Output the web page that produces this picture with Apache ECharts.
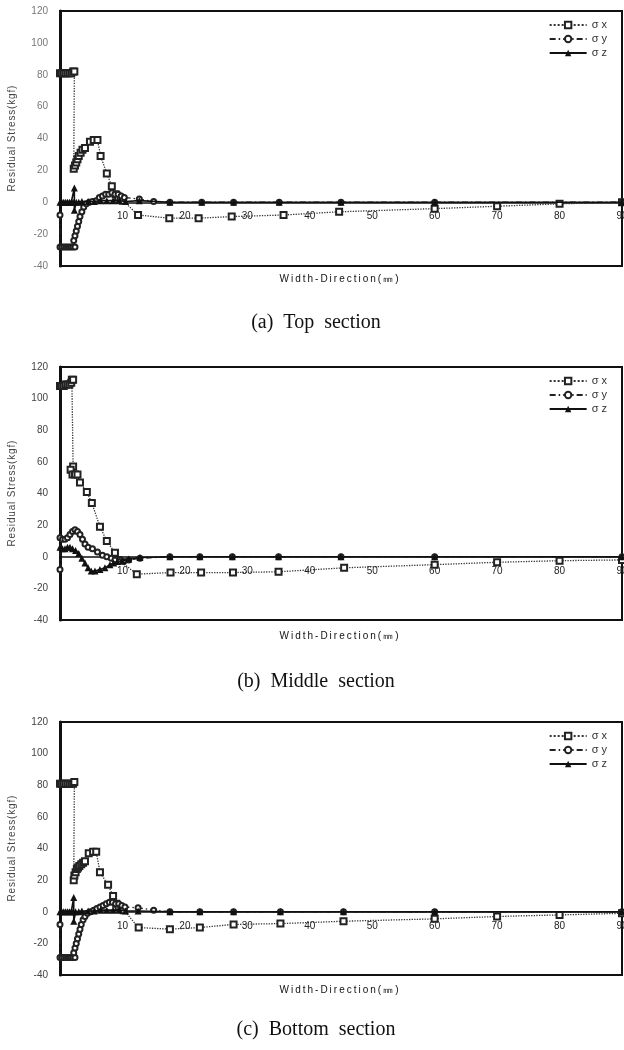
<!DOCTYPE html>
<html>
<head>
<meta charset="utf-8">
<script src="https://cdn.jsdelivr.net/npm/echarts@6/dist/echarts.min.js"></script>
<style>
html,body{margin:0;padding:0;background:#fff;}
#c{width:624px;height:1050px;}
</style>
</head>
<body>
<div id="c"></div>
<script>
// ---- data (x in mm, y in kgf) ----
const seriesNames = ['σx', 'σy', 'σz'];
const captions = ['(a)  Top  section', '(b)  Middle  section', '(c)  Bottom  section'];
const xTitle = 'Width-Direction(㎜)';
const yTitle = 'Residual Stress(kgf)';

const topSx = [[0,81],[0.3,81],[0.6,81],[0.9,81],[1.2,81],[1.5,81],[1.8,81],[2.1,82],[2.3,82],
  [2.2,21],[2.4,23],[2.6,25],[2.8,27],[3.0,29],[3.3,31],[3.6,33],[4.0,34],[4.8,38],[5.4,39],[6.0,39],
  [6.5,29],[7.5,18],[8.3,10],[8.9,5],[9.3,3],[9.7,2],[10.1,1],[12.5,-8],[17.5,-10],[22.2,-10],
  [27.5,-9],[35.8,-8],[44.7,-6],[60,-4],[70,-2.5],[80,-1],[90,0]];
const topSy = [[0,-8],[0,-28],[0.3,-28],[0.6,-28],[0.9,-28],[1.2,-28],[1.5,-28],[1.8,-28],[2.1,-28],[2.4,-28],
  [2.2,-24],[2.4,-21],[2.6,-18],[2.8,-15],[3.0,-12],[3.2,-9],[3.5,-6],[3.8,-3],[4.2,-1],[4.7,0],[5.2,0.5],
  [5.8,1],[6.3,3],[6.8,4],[7.3,5],[7.8,5],[8.3,6],[8.8,5],[9.3,5],[9.8,4],[10.3,3],[12.7,2],[15,0.5],
  [17.6,0],[22.7,0],[27.8,0],[35.1,0],[45,0],[60,0],[90,0]];
const topSz = [[0,0],[0.3,0],[0.6,0],[0.9,0],[1.2,0],[1.5,0],[1.8,0],[2.1,0],[2.3,9],[2.3,-5],[2.6,0],
  [3.0,0],[3.5,0.5],[4.5,0.5],[5.5,0.5],[6.5,1],[7.5,1],[8.5,1],[9.5,1],[10.5,0.5],[12.7,1],
  [17.6,0],[22.7,0],[27.8,0],[35.1,0],[45,0],[60,0],[90,0]];

const midSx = [[0,108],[0.3,108],[0.6,108],[0.9,109],[1.2,109],[1.5,109],[1.8,110],[1.9,112],[2.1,112],
  [2.1,57],[1.7,55],[2.0,52],[2.4,52],[2.8,52],[3.2,47],[4.3,41],[5.1,34],[6.4,19],[7.5,10],[8.8,2.5],
  [9.4,-2],[12.3,-11],[17.7,-10],[22.6,-10],[27.7,-10],[35,-9.5],[45.5,-7],[60,-5],[70,-3.5],[80,-2.5],[90,-2]];
const midSy = [[0,-8],[0,12],[0.4,11],[0.8,11],[1.2,12],[1.6,14],[2.0,16],[2.4,17],[2.8,16],[3.2,14],
  [3.6,11],[4.0,8],[4.5,6],[5.2,5],[6.0,3],[6.8,1],[7.5,0],[8.2,-1],[8.8,-2],[9.5,-3],[10.2,-3],
  [11,-2],[12.8,-1],[17.6,0],[22.4,0],[27.6,0],[35,0],[45,0],[60,0],[90,0]];
const midSz = [[0,6],[0.4,5],[0.8,5],[1.2,6],[1.6,6],[2.0,5],[2.5,4],[3.0,2],[3.5,-1],[4.0,-4],[4.5,-7],
  [5.0,-9],[5.6,-9],[6.4,-8],[7.2,-7],[8.0,-5],[8.6,-4],[9.2,-3],[10,-2.5],[11,-1.5],[12.8,-0.5],
  [17.6,0],[22.4,0],[27.6,0],[35,0],[45,0],[60,0],[90,0]];

const botSx = [[0,81],[0.3,81],[0.6,81],[0.9,81],[1.2,81],[1.5,81],[1.8,81],[2.1,81],[2.3,82],
  [2.2,20],[2.3,23],[2.5,25],[2.7,27],[2.9,28],[3.1,29],[3.4,30],[3.7,31],[4.0,32],[4.6,37],[5.3,38],
  [5.8,38],[6.4,25],[7.7,17],[8.5,10],[9.0,5],[9.4,3],[9.8,2],[10.2,1],[12.6,-10],[17.6,-11],
  [22.4,-10],[27.8,-8],[35.3,-7.5],[45.4,-6],[60,-4.5],[70,-3],[80,-2],[90,-1]];
const botSy = [[0,-8],[0,-29],[0.3,-29],[0.6,-29],[0.9,-29],[1.2,-29],[1.5,-29],[1.8,-29],[2.1,-29],[2.4,-29],
  [2.2,-26],[2.4,-23],[2.6,-20],[2.8,-17],[3.0,-14],[3.2,-11],[3.4,-8],[3.7,-5],[4.0,-3],[4.4,-1],
  [4.9,0],[5.4,1],[5.9,2],[6.4,3],[6.9,4],[7.4,5],[7.9,6],[8.4,6],[8.9,5],[9.4,5],[9.9,4],[10.4,3],
  [12.5,2.5],[15,1],[17.6,0],[22.4,0],[27.8,0],[35.3,0],[45.4,0],[60,0],[90,0]];
const botSz = [[0,0],[0.3,0],[0.6,0],[0.9,0],[1.2,0],[1.5,0],[1.8,0],[2.1,0],[2.2,9],[2.2,-6],[2.5,0],
  [3.0,0],[3.5,0.5],[4.5,0.5],[5.5,0.5],[6.5,1],[7.5,1],[8.5,1],[9.5,1],[10.5,0.5],[12.5,0.5],
  [17.6,0],[22.4,0],[27.8,0],[35.3,0],[45.4,0],[60,0],[90,0]];

const panels = [[topSx, topSy, topSz], [midSx, midSy, midSz], [botSx, botSy, botSz]];

// ---- layout ----
const gridTops = [11, 367, 722];
const gridHeights = [255, 253, 253];
const xTitleY = [279, 636, 990];
const captionY = [323, 682, 1030];

const styles = [
  { symbol: 'emptyRect', symbolSize: 6, lineStyle: { type: 'dotted', width: 1.3, color: '#333' },
    itemStyle: { color: '#222', borderColor: '#222', borderWidth: 1.1 }, z: 3 },
  { symbol: 'emptyCircle', symbolSize: 5, lineStyle: { type: [6, 3, 1.5, 3], width: 1.3, color: '#222' },
    itemStyle: { color: '#222', borderColor: '#222', borderWidth: 1.1 }, z: 4 },
  { symbol: 'triangle', symbolSize: 7, lineStyle: { type: 'solid', width: 1.6, color: '#111' },
    itemStyle: { color: '#111' }, z: 5 }
];

const grid = [], xAxis = [], yAxis = [], series = [], legend = [], graphic = [];
const spaced = (s, sp) => s.split('').join(sp);

panels.forEach((p, i) => {
  grid.push({ left: 60, right: 2, top: gridTops[i], height: gridHeights[i], show: true,
    outerBoundsMode: 'none', containLabel: false,
    borderColor: '#111', borderWidth: 2, backgroundColor: 'transparent' });
  xAxis.push({ gridIndex: i, type: 'value', min: 0, max: 90, interval: 10, position: 'bottom',
    offset: -gridHeights[i] / 4,
    axisLine: { onZero: false, lineStyle: { color: '#111', width: 1.5 } },
    axisTick: { show: false }, splitLine: { show: false },
    axisLabel: { color: '#222', fontSize: 10, margin: 9, fontFamily: 'Liberation Sans',
      showMinLabel: true, showMaxLabel: true, hideOverlap: false,
      formatter: v => v === 0 ? '' : String(v) } });
  yAxis.push({ gridIndex: i, type: 'value', min: -40, max: 120, interval: 20,
    axisLine: { show: true, onZero: false, lineStyle: { color: '#111', width: 3 } },
    axisTick: { show: false }, splitLine: { show: false },
    axisLabel: { color: i === 0 ? '#777' : '#444', fontSize: 10, margin: 12, fontFamily: 'Liberation Sans' },
    name: spaced(yTitle, '\u200a'), nameLocation: 'middle', nameGap: 43, nameRotate: 90,
    nameTextStyle: { color: '#444', fontSize: 10, fontFamily: 'Liberation Sans' } });
  p.forEach((d, k) => {
    series.push(Object.assign({ type: 'line', name: seriesNames[k], xAxisIndex: i, yAxisIndex: i,
      data: d, animation: false, clip: false }, styles[k]));
  });
  legend.push({ data: seriesNames, orient: 'vertical', right: 17, top: gridTops[i] + 8,
    itemWidth: 37, itemHeight: 8, itemGap: 2, padding: 0,
    textStyle: { color: '#333', fontSize: 11, fontFamily: 'Liberation Sans', lineHeight: 12 },
    formatter: n => n.charAt(0) + ' ' + n.charAt(1) });
  graphic.push({ type: 'text', x: 339, y: xTitleY[i],
    style: { text: spaced(xTitle, '\u2009'), font: '10px "Liberation Sans"', fill: '#111',
      textAlign: 'center', textVerticalAlign: 'middle' } });
  graphic.push({ type: 'text', x: 316, y: captionY[i],
    style: { text: captions[i], font: '20px "Liberation Serif"', fill: '#111',
      textAlign: 'center', textVerticalAlign: 'middle' } });
});

const chart = echarts.init(document.getElementById('c'), null, { renderer: 'canvas' });
chart.setOption({ animation: false, backgroundColor: '#fff', grid, xAxis, yAxis, series, legend, graphic });
</script>
</body>
</html>
